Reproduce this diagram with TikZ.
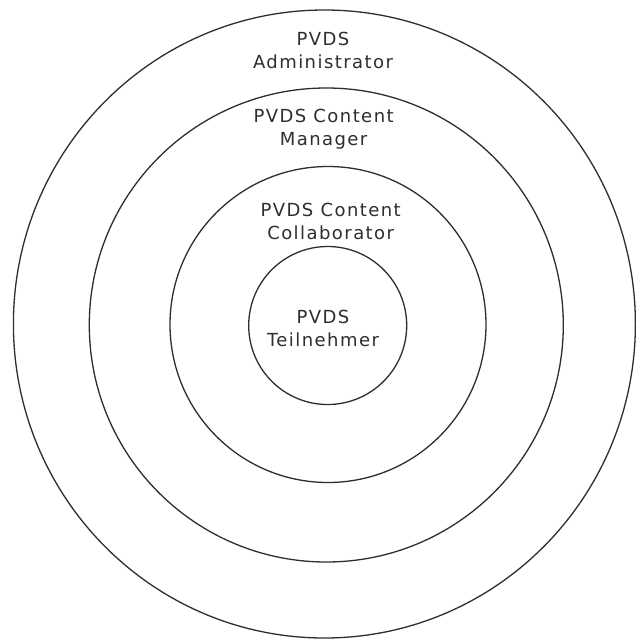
\documentclass[tikz,border=0pt]{standalone}
\usepackage{fontspec}
\setmainfont{DejaVu Sans}[LetterSpace=8]
\definecolor{ink}{HTML}{2E2E2E}
\begin{document}
\begin{tikzpicture}[x=1pt,y=-1pt,
  ring/.style={draw=ink,line width=1.3pt},
  lbl/.style={text=ink,align=center,inner sep=0pt,anchor=base,font=\fontsize{18}{23}\selectfont}]
\useasboundingbox (0,0) rectangle (636,641);
\fill[white] (0,0) rectangle (636,641);
\draw[ring] (324.4,324) ellipse [x radius=311pt,y radius=314pt];
\draw[ring] (326.3,325) circle [radius=237pt];
\draw[ring] (328,324.5) circle [radius=158pt];
\draw[ring] (327.7,325.5) circle [radius=79pt];
\node[lbl] (admin) at (323,68.5) {PVDS\\Administrator};
\node[lbl] (mgr) at (323.6,145.5) {PVDS Content\\Manager};
\node[lbl] (collab) at (330.7,239.3) {PVDS Content\\Collaborator};
\node[lbl] (teil) at (323,346.7) {PVDS\\Teilnehmer};
\end{tikzpicture}
\end{document}
